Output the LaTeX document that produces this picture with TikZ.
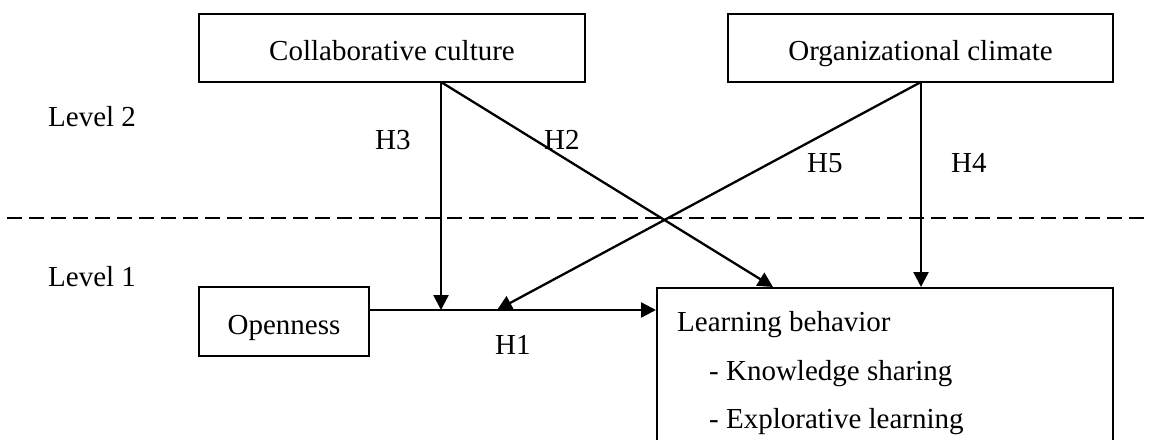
\documentclass[tikz,border=0pt]{standalone}
\usepackage{fontspec}
\setmainfont{Liberation Serif}
\usetikzlibrary{arrows.meta}
\begin{document}
\begin{tikzpicture}[x=1pt,y=-1pt,
  every node/.style={font=\fontsize{29}{34}\selectfont},
  box/.style={draw, line width=1.6pt, inner sep=0pt, text height=25pt, text depth=0pt},
  lbl/.style={inner sep=0pt, anchor=base west},
  conn/.style={line width=2.3pt, -{Triangle[length=15pt,width=15pt]}},
  levelline/.style={line width=1.6pt, dash pattern=on 15pt off 7pt}]
\useasboundingbox (0,0) rectangle (1150,439);
\clip (0,0) rectangle (1150,439);
% boxes
\node[box, minimum width=386pt, minimum height=68pt] (cc) at (392,48) {Collaborative culture};
\node[box, minimum width=385pt, minimum height=68pt] (oc) at (920.5,48) {Organizational climate};
\node[box, minimum width=170pt, minimum height=69pt] (op) at (284,321.5) {Openness};
\node[draw, line width=1.6pt, inner sep=0pt, minimum width=456pt, minimum height=200pt, anchor=north west] (lb) at (656,287) {};
\node[lbl] (lbt1) at (677,331.7) {Learning behavior};
\node[lbl] (lbt2) at (709,380) {- Knowledge sharing};
\node[lbl] (lbt3) at (709,428) {- Explorative learning};
% level labels
\node[lbl] (lv2) at (48,126) {Level 2};
\node[lbl] (lv1) at (48,286) {Level 1};
% dashed separator
\coordinate (dl) at (7,218);
\coordinate (dr) at (1150,218);
\draw[levelline] (dl) -- (dr);
% connector points
\coordinate (ccout) at (441,82);
\coordinate (ocout) at (921,82);
\coordinate (m3) at (441,310);
\coordinate (m5) at (497,310);
\coordinate (lb2) at (773,287);
\coordinate (lb4) at (921,287);
% connectors
\draw[conn] (op.east |- m3) -- (lb.west |- m3);
\draw[conn] (ccout) -- (m3);
\draw[conn] (ccout) -- (lb2);
\draw[conn] (ocout) -- (m5);
\draw[conn] (ocout) -- (lb4);
% hypothesis labels
\node[lbl] (h3) at (375,149) {H3};
\node[lbl] (h2) at (544,149) {H2};
\node[lbl] (h5) at (807,172) {H5};
\node[lbl] (h4) at (951,172) {H4};
\node[lbl] (h1) at (495,354) {H1};
\end{tikzpicture}
\end{document}
